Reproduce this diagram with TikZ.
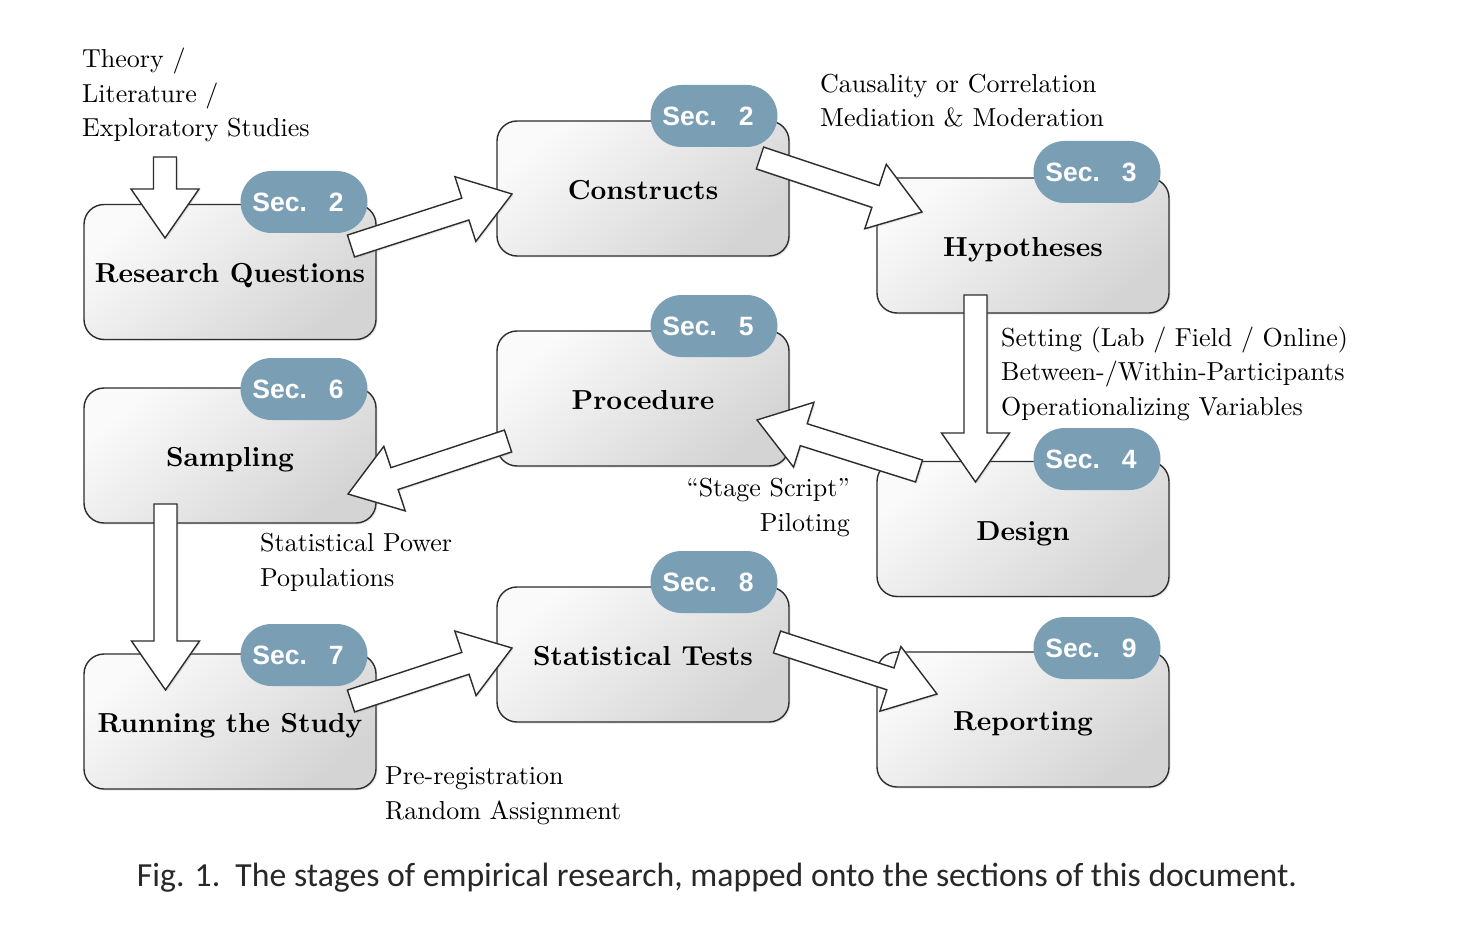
\documentclass[tikz,border=0pt]{standalone}
\usepackage{fontspec}
\setmainfont{lmroman10-regular.otf}[BoldFont=lmroman10-bold.otf]
\newfontfamily\badgefont{Liberation Sans}
\newfontfamily\capfont{Carlito}
\usetikzlibrary{calc,shadows}
\definecolor{badgeblue}{RGB}{122,159,181}
\definecolor{boxline}{RGB}{45,45,45}
\definecolor{captext}{RGB}{40,40,40}
\tikzset{
  stagebox/.style={draw=boxline, line width=1.4pt, rounded corners=20pt,
    minimum width=292pt, minimum height=135pt, inner sep=0pt,
    text height=22pt, text depth=0pt,
    top color=black!2, bottom color=black!17, shading angle=40,
    drop shadow={opacity=0.18, shadow xshift=1.5pt, shadow yshift=-1.5pt},
    font=\fontsize{27.5}{33}\selectfont\bfseries},
  secbadge/.style={fill=badgeblue, rounded corners=31pt,
    minimum width=127pt, minimum height=62pt, inner sep=0pt,
    text=white, font=\badgefont\fontsize{26.5}{30}\selectfont\bfseries},
  note/.style={inner sep=0pt, align=left, font=\fontsize{26}{34.5}\selectfont},
  blockarrow/.style={draw=boxline, line width=1.4pt, fill=white, line join=miter,
    drop shadow={opacity=0.18, shadow xshift=1.5pt, shadow yshift=-1.5pt}},
}
\newcommand{\barrow}[2]{%
  \path coordinate (hb) at ($(#2)!49pt!(#1)$);
  \draw[blockarrow]
    ($(#1)!11.5pt!90:(#2)$) -- ($(hb)!11.5pt!-90:(#1)$) -- ($(hb)!34pt!-90:(#1)$)
    -- (#2) -- ($(hb)!34pt!90:(#1)$) -- ($(hb)!11.5pt!90:(#1)$)
    -- ($(#1)!11.5pt!-90:(#2)$) -- cycle;}
\newcommand{\sectag}[1]{Sec.\hspace{22pt}#1\kern12pt}
\begin{document}
\begin{tikzpicture}[x=1pt,y=-1pt]
\useasboundingbox (0,0) rectangle (1466,933);
\fill[white] (0,0) rectangle (1466,933);

% stage boxes
\node[stagebox] (rq)   at (230,272)   {Research Questions};
\node[stagebox] (con)  at (643,188.5) {Constructs};
\node[stagebox] (hyp)  at (1023,245.5){Hypotheses};
\node[stagebox] (proc) at (643,398.5) {Procedure};
\node[stagebox] (samp) at (230,455.5) {Sampling};
\node[stagebox] (des)  at (1023,529)  {Design};
\node[stagebox] (stat) at (643,654.5) {Statistical Tests};
\node[stagebox] (run)  at (230,721.5) {Running the Study};
\node[stagebox] (rep)  at (1023,719.5){Reporting};

% section badges
\node[secbadge] (b-rq)   at (304,202)  {\sectag{2}};
\node[secbadge] (b-con)  at (714,116)  {\sectag{2}};
\node[secbadge] (b-hyp)  at (1097,172) {\sectag{3}};
\node[secbadge] (b-proc) at (714,326)  {\sectag{5}};
\node[secbadge] (b-samp) at (304,389)  {\sectag{6}};
\node[secbadge] (b-des)  at (1097,459) {\sectag{4}};
\node[secbadge] (b-stat) at (714,582)  {\sectag{8}};
\node[secbadge] (b-run)  at (304,655)  {\sectag{7}};
\node[secbadge] (b-rep)  at (1097,648) {\sectag{9}};

% annotations (anchored at the baseline of their last line)
\node[note, anchor=base west] (n-theory) at (82,137)
  {Theory /\\Literature /\\Exploratory Studies};
\node[note, anchor=base west] (n-caus) at (820,127)
  {Causality or Correlation\\Mediation \& Moderation};
\node[note, anchor=base west] (n-set) at (1001,415)
  {Setting (Lab / Field / Online)\\Between-/Within-Participants\\Operationalizing Variables};
\node[note, anchor=base east, align=right] (n-stage) at (850,531)
  {``Stage Script''\\Piloting};
\node[note, anchor=base west] (n-power) at (260,586)
  {Statistical Power\\Populations};
\node[note, anchor=base west] (n-prereg) at (385,819)
  {Pre-registration\\Random Assignment};

% arrow end points
\coordinate (a1t) at (165,157);  \coordinate (a1h) at (165,238);
\coordinate (a2t) at (351,246);  \coordinate (a2h) at (512,194);
\coordinate (a3t) at (760,158);  \coordinate (a3h) at (922,212);
\coordinate (a4t) at (975.5,295);\coordinate (a4h) at (975.5,482);
\coordinate (a5t) at (919,471);  \coordinate (a5h) at (757,420);
\coordinate (a6t) at (508,441);  \coordinate (a6h) at (348,494);
\coordinate (a7t) at (165.5,504);\coordinate (a7h) at (165.5,690);
\coordinate (a8t) at (351,701);  \coordinate (a8h) at (512,648);
\coordinate (a9t) at (777,642);  \coordinate (a9h) at (937,694);

\barrow{a1t}{a1h}
\barrow{a2t}{a2h}
\barrow{a3t}{a3h}
\barrow{a4t}{a4h}
\barrow{a5t}{a5h}
\barrow{a6t}{a6h}
\barrow{a7t}{a7h}
\barrow{a8t}{a8h}
\barrow{a9t}{a9h}

% caption
\node[inner sep=0pt, text=captext, anchor=center] (cap) at (717,878)
  {\resizebox{1160pt}{!}{\capfont Fig. 1.\ \ The stages of empirical research, mapped onto the sections of this document.}};
\end{tikzpicture}
\end{document}
